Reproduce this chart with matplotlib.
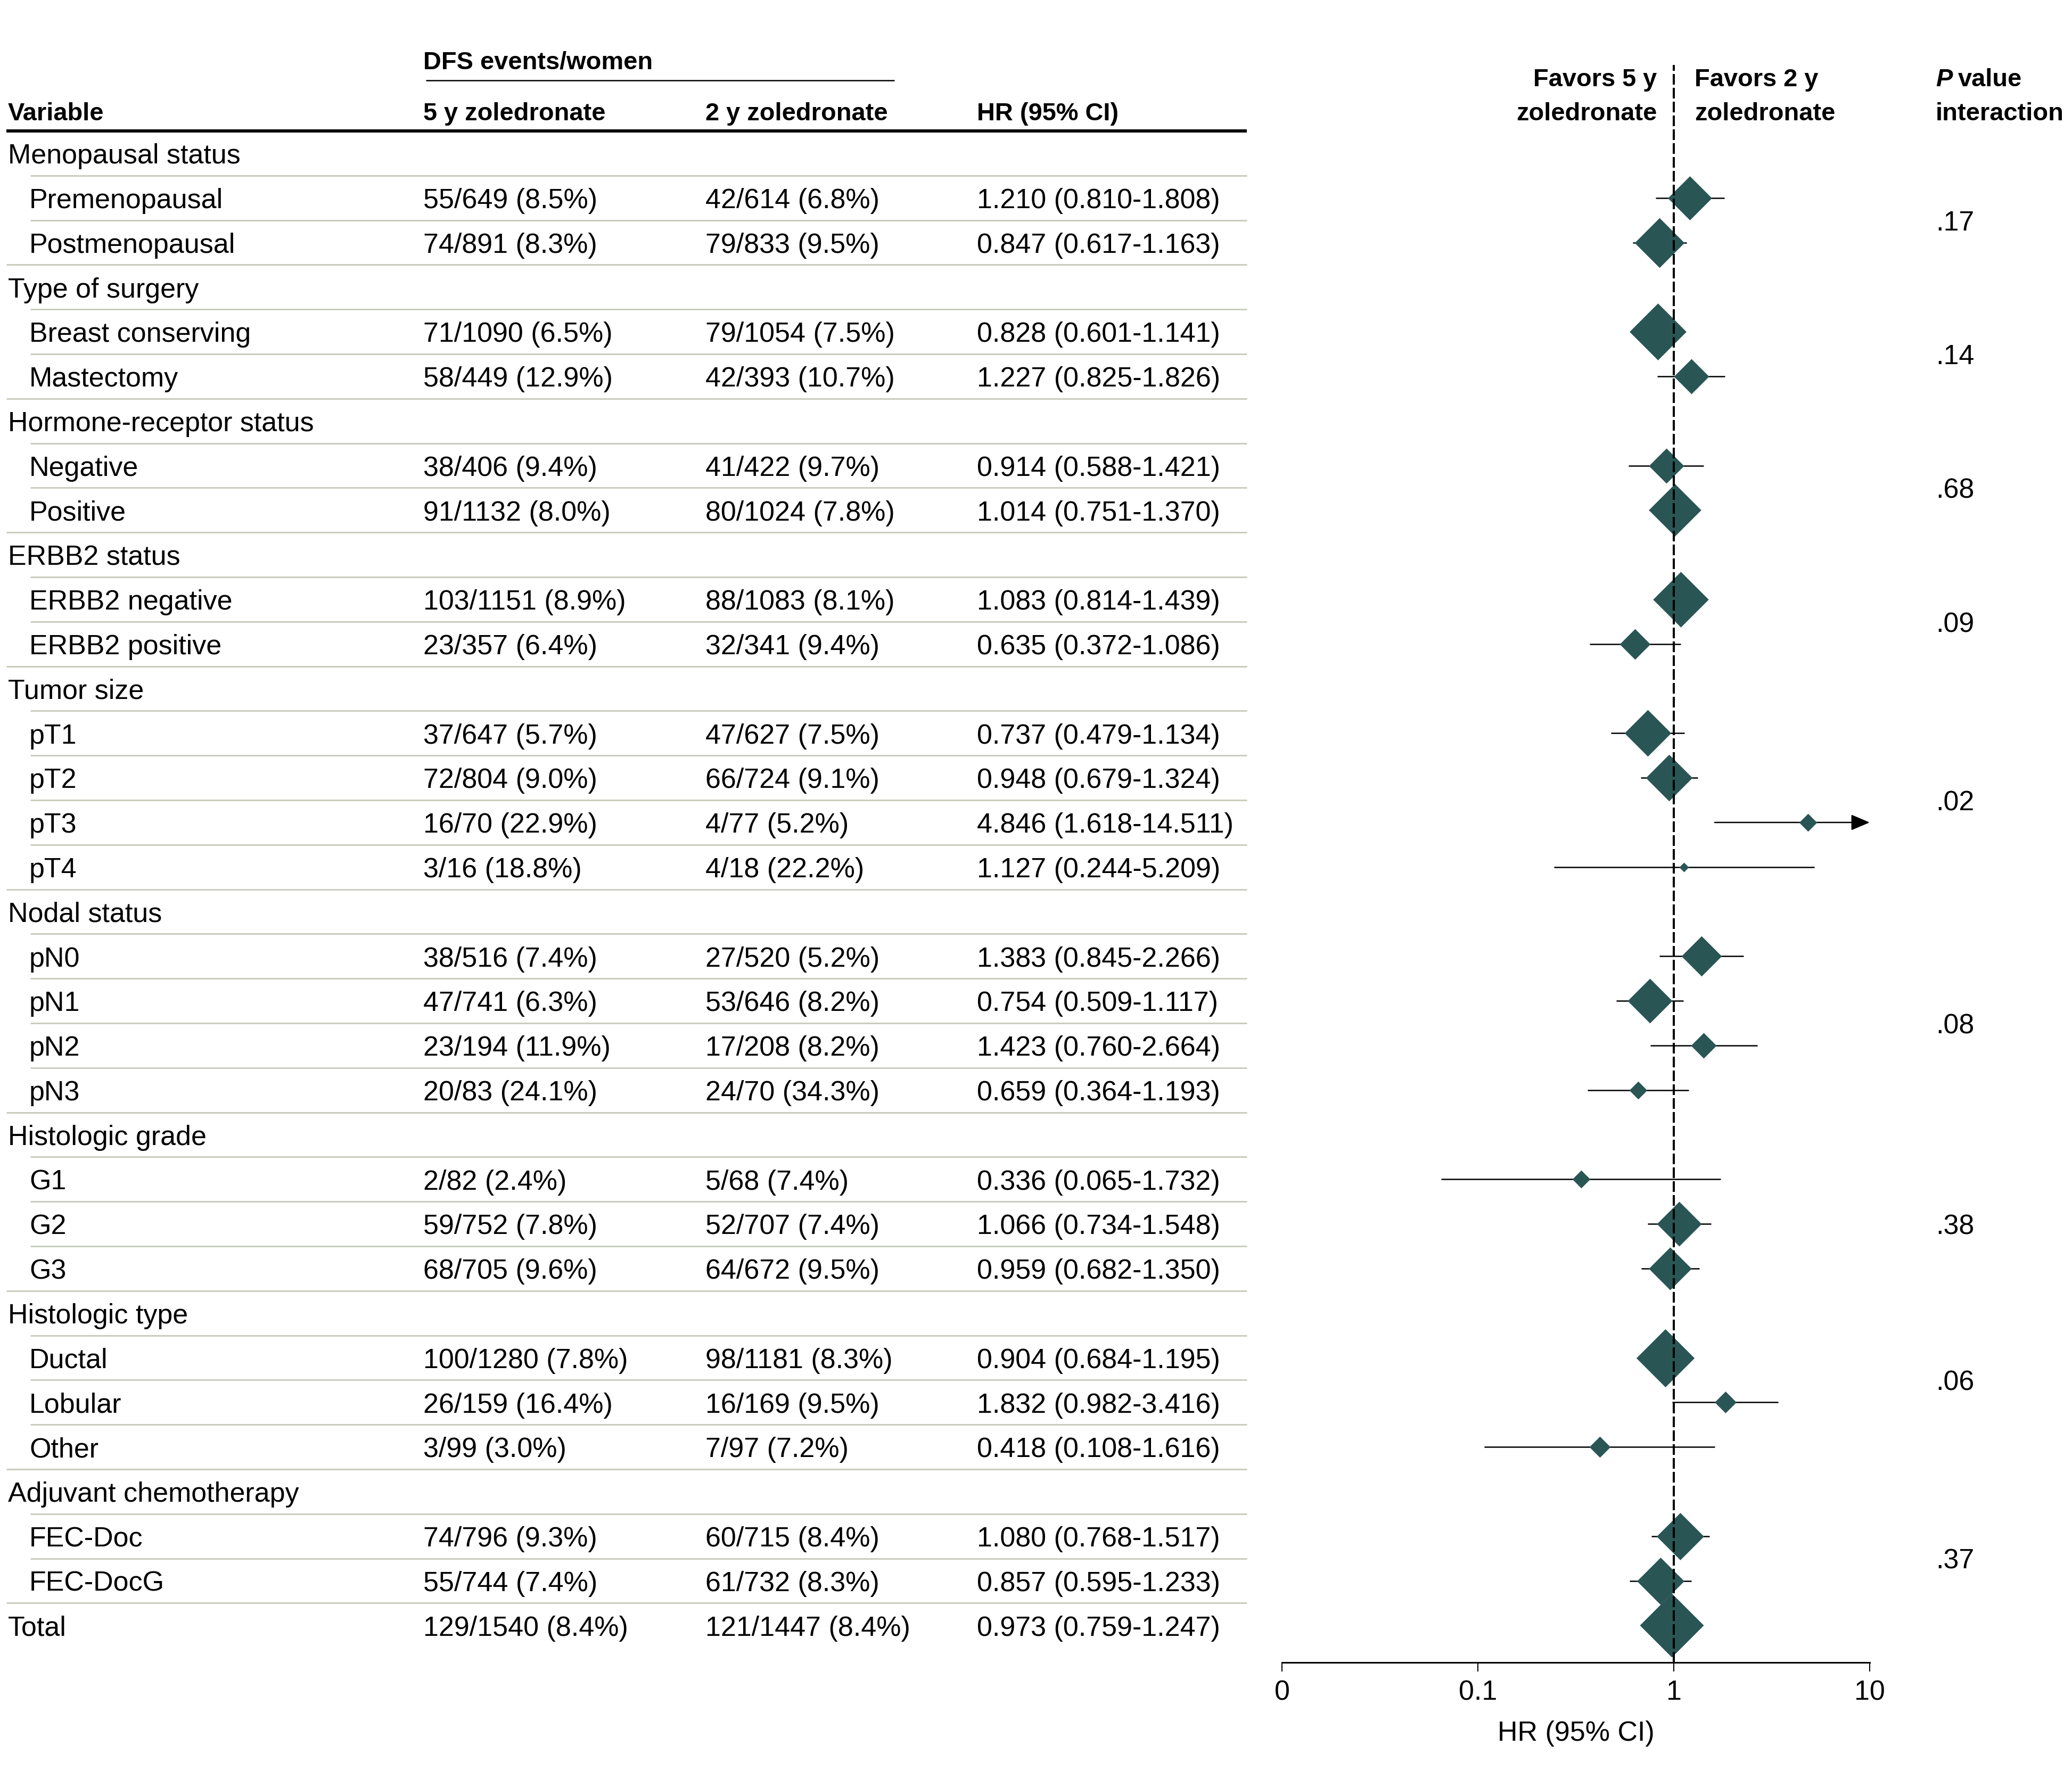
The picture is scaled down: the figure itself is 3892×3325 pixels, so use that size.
import numpy as np
import matplotlib
matplotlib.use("Agg")
import matplotlib.pyplot as plt
from matplotlib.path import Path
from matplotlib.ticker import NullLocator

plt.rcParams['font.family'] = ['Liberation Sans', 'DejaVu Sans']

# ---------------- data ----------------
group_names = ["Menopausal status", "Type of surgery", "Hormone-receptor status",
               "ERBB2 status", "Tumor size", "Nodal status", "Histologic grade",
               "Histologic type", "Adjuvant chemotherapy"]
subgroup_labels = [
    ["Premenopausal", "Postmenopausal"],
    ["Breast conserving", "Mastectomy"],
    ["Negative", "Positive"],
    ["ERBB2 negative", "ERBB2 positive"],
    ["pT1", "pT2", "pT3", "pT4"],
    ["pN0", "pN1", "pN2", "pN3"],
    ["G1", "G2", "G3"],
    ["Ductal", "Lobular", "Other"],
    ["FEC-Doc", "FEC-DocG"],
]
total_label = "Total"

events_5y = ["55/649 (8.5%)", "74/891 (8.3%)",
             "71/1090 (6.5%)", "58/449 (12.9%)",
             "38/406 (9.4%)", "91/1132 (8.0%)",
             "103/1151 (8.9%)", "23/357 (6.4%)",
             "37/647 (5.7%)", "72/804 (9.0%)", "16/70 (22.9%)", "3/16 (18.8%)",
             "38/516 (7.4%)", "47/741 (6.3%)", "23/194 (11.9%)", "20/83 (24.1%)",
             "2/82 (2.4%)", "59/752 (7.8%)", "68/705 (9.6%)",
             "100/1280 (7.8%)", "26/159 (16.4%)", "3/99 (3.0%)",
             "74/796 (9.3%)", "55/744 (7.4%)",
             "129/1540 (8.4%)"]
events_2y = ["42/614 (6.8%)", "79/833 (9.5%)",
             "79/1054 (7.5%)", "42/393 (10.7%)",
             "41/422 (9.7%)", "80/1024 (7.8%)",
             "88/1083 (8.1%)", "32/341 (9.4%)",
             "47/627 (7.5%)", "66/724 (9.1%)", "4/77 (5.2%)", "4/18 (22.2%)",
             "27/520 (5.2%)", "53/646 (8.2%)", "17/208 (8.2%)", "24/70 (34.3%)",
             "5/68 (7.4%)", "52/707 (7.4%)", "64/672 (9.5%)",
             "98/1181 (8.3%)", "16/169 (9.5%)", "7/97 (7.2%)",
             "60/715 (8.4%)", "61/732 (8.3%)",
             "121/1447 (8.4%)"]
hr = [1.210, 0.847, 0.828, 1.227, 0.914, 1.014, 1.083, 0.635,
      0.737, 0.948, 4.846, 1.127, 1.383, 0.754, 1.423, 0.659,
      0.336, 1.066, 0.959, 0.904, 1.832, 0.418, 1.080, 0.857, 0.973]
ci_lo = [0.810, 0.617, 0.601, 0.825, 0.588, 0.751, 0.814, 0.372,
         0.479, 0.679, 1.618, 0.244, 0.845, 0.509, 0.760, 0.364,
         0.065, 0.734, 0.682, 0.684, 0.982, 0.108, 0.768, 0.595, 0.759]
ci_hi = [1.808, 1.163, 1.141, 1.826, 1.421, 1.370, 1.439, 1.086,
         1.134, 1.324, 14.511, 5.209, 2.266, 1.117, 2.664, 1.193,
         1.732, 1.548, 1.350, 1.195, 3.416, 1.616, 1.517, 1.233, 1.247]
# relative weight of each estimate (marker size, Total = 1)
weights = [0.69, 0.78, 0.89, 0.55, 0.55, 0.82, 0.87, 0.48,
           0.73, 0.73, 0.28, 0.15, 0.63, 0.70, 0.40, 0.28,
           0.28, 0.70, 0.67, 0.91, 0.34, 0.33, 0.74, 0.74, 1.00]
p_interaction = [".17", ".14", ".68", ".09", ".02", ".08", ".38", ".06", ".37"]

col_headers = ["Variable", "5 y zoledronate", "2 y zoledronate", "HR (95% CI)"]
span_header = "DFS events/women"
xticks = [0.01, 0.1, 1, 10]
xtick_labels = ["0", "0.1", "1", "10"]
xlabel = "HR (95% CI)"

# ---------------- layout (pixels, dpi = 72 so 1 pt = 1 px) ----------------
W, H, DPI = 3892, 3325, 72
AXIS_Y = 3123          # y of forest x-axis from top
ROW0 = 288             # centre of first row from top
STEP = 83.8            # row pitch
FS = 52
FSB = 47               # bold header size
DIAMOND_MAX = 120
TEAL = "#2A5555"
SEP = "#C8CDBE"
CAP_OFF = 0.23         # baseline offset below row centre, in rows

def yrow(px):
    return (px - ROW0) / STEP

ytop = yrow(0)
ybot = yrow(AXIS_Y)

fig = plt.figure(figsize=(W / DPI, H / DPI), dpi=DPI)
fig.patch.set_facecolor("white")
bottom = 1 - AXIS_Y / H
height = AXIS_Y / H

tab = fig.add_axes([0, bottom, 1, height])
tab.set_xlim(0, W)
tab.set_ylim(ybot, ytop)
tab.axis("off")

FX0, FX1 = 2408, 3512
fa = fig.add_axes([FX0 / W, bottom, (FX1 - FX0) / W, height])
fa.set_facecolor("none")
fa.set_xscale("log")
fa.set_xlim(xticks[0], xticks[-1])
fa.set_ylim(ybot, ytop)
for s in ["top", "right", "left"]:
    fa.spines[s].set_visible(False)
fa.spines["bottom"].set_linewidth(3)
fa.set_yticks([])
fa.set_xticks(xticks)
fa.set_xticklabels(xtick_labels)
fa.xaxis.set_minor_locator(NullLocator())
fa.tick_params(axis="x", direction="out", length=17, width=2, pad=15, labelsize=FS)
fa.set_xlabel(xlabel, fontsize=FS, labelpad=28)

# ---------------- rows ----------------
COL_X = [15, 795, 1325, 1835]
SUB_X = 55
LINE_X0_FULL, LINE_X0_SUB, LINE_X1 = 12, 57, 2342

rows = []   # (label, kind, data index)
k = 0
for g, subs in zip(group_names, subgroup_labels):
    rows.append((g, "group", None))
    for s in subs:
        rows.append((s, "sub", k))
        k += 1
rows.append((total_label, "total", k))

diamond = Path([(0, 1), (1, 0), (0, -1), (-1, 0), (0, 1)],
               [Path.MOVETO, Path.LINETO, Path.LINETO, Path.LINETO, Path.CLOSEPOLY])

xmax = xticks[-1]
for r, (label, kind, idx) in enumerate(rows):
    yb = r + CAP_OFF
    x = SUB_X if kind == "sub" else COL_X[0]
    tab.text(x, yb, label, fontsize=FS, va="baseline", ha="left")
    if idx is not None:
        tab.text(COL_X[1], yb, events_5y[idx], fontsize=FS, va="baseline")
        tab.text(COL_X[2], yb, events_2y[idx], fontsize=FS, va="baseline")
        tab.text(COL_X[3], yb, f"{hr[idx]:.3f} ({ci_lo[idx]:.3f}-{ci_hi[idx]:.3f})",
                 fontsize=FS, va="baseline")
        # forest marks
        if ci_hi[idx] > xmax:
            fa.annotate("", xy=(xmax, r), xytext=(ci_lo[idx], r),
                        arrowprops=dict(arrowstyle="-|>,head_length=0.4,head_width=0.17",
                                        color="black", lw=2.5, mutation_scale=75,
                                        shrinkA=0, shrinkB=0),
                        annotation_clip=False, zorder=2)
        else:
            fa.hlines(r, ci_lo[idx], ci_hi[idx], color="black", lw=2.5, zorder=2)
        fa.plot([hr[idx]], [r], marker=diamond, markersize=DIAMOND_MAX * weights[idx],
                color=TEAL, mew=0, ls="none", zorder=3)
    # separator below
    if r < len(rows) - 1:
        nxt = rows[r + 1][1]
        x0 = LINE_X0_SUB if nxt == "sub" else LINE_X0_FULL
        tab.plot([x0, LINE_X1], [r + 0.5, r + 0.5], color=SEP, lw=3,
                 solid_capstyle="butt", zorder=1)

# p values
PX = 3636
r = 0
p_shift = {7: -0.5}
for gi, subs in enumerate(subgroup_labels):
    first = r + 1
    last = r + len(subs)
    yc = (first + last) / 2 + p_shift.get(gi, 0)
    tab.text(PX, yc + CAP_OFF, p_interaction[gi], fontsize=FS, va="baseline")
    r = last + 1

# ---------------- headers ----------------
yh = yrow(207) + CAP_OFF
for x, t in zip(COL_X, col_headers):
    tab.text(x, yh, t, fontsize=FSB, fontweight="bold", va="baseline")
tab.text(COL_X[1], yrow(110) + CAP_OFF, span_header, fontsize=FSB,
         fontweight="bold", va="baseline")
tab.plot([800, 1680], [yrow(151)] * 2, color="black", lw=2.5, solid_capstyle="butt")
tab.plot([LINE_X0_FULL, LINE_X1], [yrow(246)] * 2, color="black", lw=6,
         solid_capstyle="butt")

y1 = yrow(143) + CAP_OFF
y2 = yrow(207) + CAP_OFF
tab.text(3112, y1, "Favors 5 y", fontsize=FSB, fontweight="bold", ha="right", va="baseline")
tab.text(3112, y2, "zoledronate", fontsize=FSB, fontweight="bold", ha="right", va="baseline")
tab.text(3183, y1, "Favors 2 y", fontsize=FSB, fontweight="bold", ha="left", va="baseline")
tab.text(3183, y2, "zoledronate", fontsize=FSB, fontweight="bold", ha="left", va="baseline")

tp = tab.text(PX, y1, "P", fontsize=FSB, fontweight="bold", fontstyle="italic",
              va="baseline")
fig.canvas.draw()
bb = tp.get_window_extent()
tab.text(PX + bb.width + 10, y1, "value", fontsize=FSB, fontweight="bold", va="baseline")
tab.text(PX, y2, "interaction", fontsize=FSB, fontweight="bold", va="baseline")

# reference line at HR = 1
top_frac = (ybot - yrow(122)) / (ybot - ytop)
fa.axvline(1, ymin=0, ymax=top_frac, color="black", lw=4, dashes=(5, 1.5), zorder=4)

fig.savefig("out.png", dpi=DPI, facecolor="white")
